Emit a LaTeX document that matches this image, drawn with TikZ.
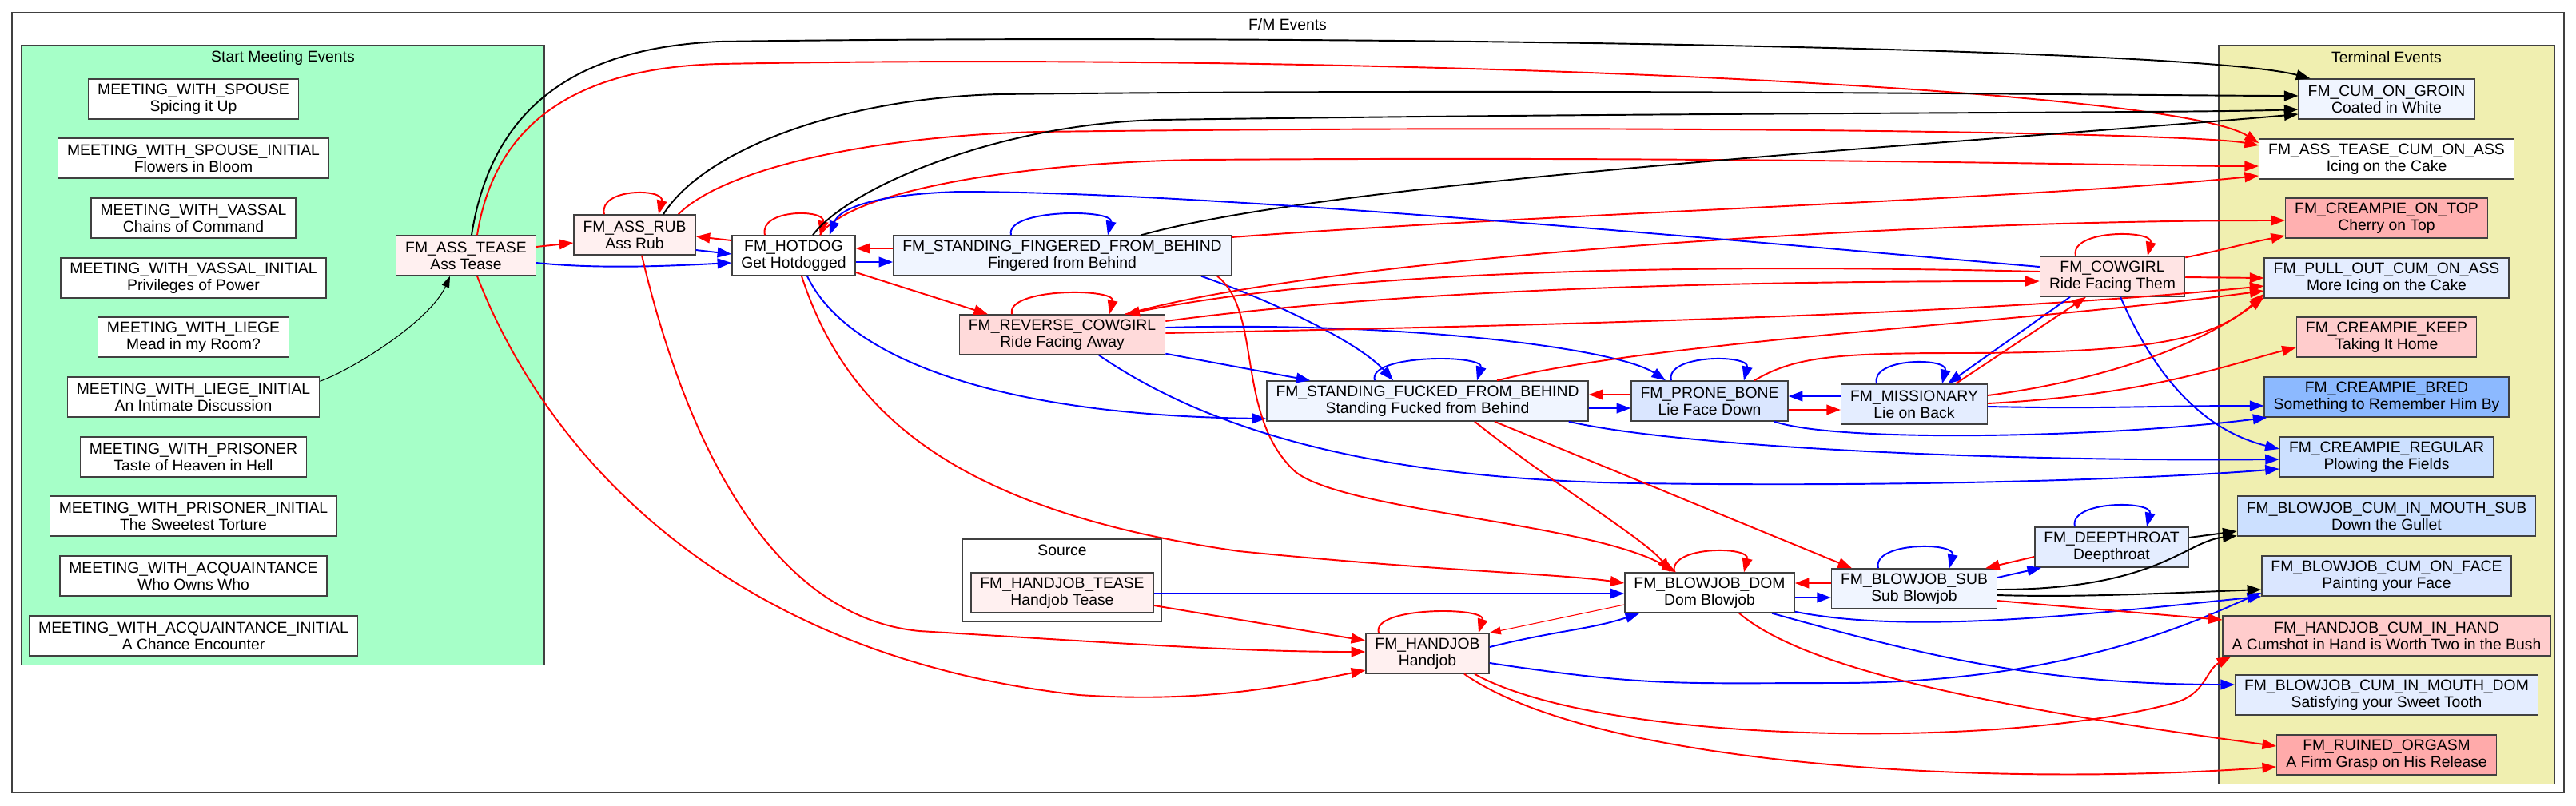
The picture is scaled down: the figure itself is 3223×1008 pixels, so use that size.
\documentclass[tikz,border=0pt]{standalone}
\usepackage{fontspec}
\setmainfont{Liberation Sans}
\usetikzlibrary{positioning, arrows.meta, calc}
\definecolor{startgreen}{RGB}{166,255,200}
\definecolor{termyellow}{RGB}{240,239,176}
\definecolor{pinkpale}{RGB}{255,240,240}
\definecolor{pinklight}{RGB}{255,228,228}
\definecolor{pinkmid}{RGB}{255,218,218}
\definecolor{pinkrose}{RGB}{255,204,204}
\definecolor{pinkdeep}{RGB}{255,176,176}
\definecolor{pinkred}{RGB}{255,170,170}
\definecolor{bluepale}{RGB}{240,245,255}
\definecolor{bluelight}{RGB}{228,237,255}
\definecolor{bluemid}{RGB}{218,230,255}
\definecolor{bluesoft}{RGB}{204,224,255}
\definecolor{bluedeep}{RGB}{140,185,255}
\definecolor{framegray}{RGB}{64,64,64}
\newcommand{\evfont}{\fontsize{5.5}{6}\selectfont}
\tikzset{
  evt/.style={draw=framegray, line width=0.4pt, fill=white, minimum height=0.5cm,
              inner xsep=0.115cm, inner ysep=0.4pt, align=center, font=\evfont},
  grp/.style={draw=framegray, line width=0.4pt, inner sep=0pt},
  grplabel/.style={font=\evfont, inner sep=0pt},
  wire/.style={-{Triangle[length=5pt,width=3.6pt]}, line width=0.55pt},
  redwire/.style={wire, red},
  bluewire/.style={wire, blue},
  blackwire/.style={wire, black},
  thinwire/.style={-{Triangle[length=4pt,width=2.8pt]}, line width=0.3pt}
}

\begin{document}
\begin{tikzpicture}[x=0.01cm, y=-0.01cm]
  \useasboundingbox (0,0) rectangle (3223,1008);
  \node[grp, fill=white, minimum width=31.91cm, minimum height=9.76cm] (fmgrp) at (1611.5,504) {};
  \node[grplabel] (fmtitle) at (1611,31) {F/M Events};
  \node[grp, fill=startgreen, minimum width=6.54cm, minimum height=7.75cm] (startgrp) at (354,444.5) {};
  \node[grplabel] (starttitle) at (354,72) {Start Meeting Events};
  \node[grp, fill=termyellow, minimum width=4.2cm, minimum height=9.24cm] (termgrp) at (2986,519) {};
  \node[grplabel] (termtitle) at (2986,72) {Terminal Events};
  \node[grp, fill=white, minimum width=2.49cm, minimum height=1.03cm] (srcgrp) at (1328.5,726.5) {};
  \node[grplabel] (srctitle) at (1329,689) {Source};

  \node[evt] (spouse)   at (242,124) {MEETING\_WITH\_SPOUSE\\Spicing it Up};
  \node[evt] (spouseI)  at (242,198) {MEETING\_WITH\_SPOUSE\_INITIAL\\Flowers in Bloom};
  \node[evt] (vassal)   at (242,273) {MEETING\_WITH\_VASSAL\\Chains of Command};
  \node[evt] (vassalI)  at (242,348) {MEETING\_WITH\_VASSAL\_INITIAL\\Privileges of Power};
  \node[evt] (liege)    at (242,422) {MEETING\_WITH\_LIEGE\\Mead in my Room?};
  \node[evt] (liegeI)   at (242,497) {MEETING\_WITH\_LIEGE\_INITIAL\\An Intimate Discussion};
  \node[evt] (prisoner) at (242,572) {MEETING\_WITH\_PRISONER\\Taste of Heaven in Hell};
  \node[evt] (prisonerI) at (242,646) {MEETING\_WITH\_PRISONER\_INITIAL\\The Sweetest Torture};
  \node[evt] (acq)      at (242,721) {MEETING\_WITH\_ACQUAINTANCE\\Who Owns Who};
  \node[evt] (acqI)     at (242,796) {MEETING\_WITH\_ACQUAINTANCE\_INITIAL\\A Chance Encounter};

  \node[evt, fill=pinkpale]  (asstease)   at (583,320)  {FM\_ASS\_TEASE\\Ass Tease};
  \node[evt, fill=pinkpale]  (assrub)     at (794,294)  {FM\_ASS\_RUB\\Ass Rub};
  \node[evt]                 (hotdog)     at (993,320)  {FM\_HOTDOG\\Get Hotdogged};
  \node[evt, fill=bluepale]  (fingered)   at (1329,320) {FM\_STANDING\_FINGERED\_FROM\_BEHIND\\Fingered from Behind};
  \node[evt, fill=pinkmid]   (revcowgirl) at (1329,419) {FM\_REVERSE\_COWGIRL\\Ride Facing Away};
  \node[evt, fill=bluepale]  (fucked)     at (1786,502) {FM\_STANDING\_FUCKED\_FROM\_BEHIND\\Standing Fucked from Behind};
  \node[evt, fill=bluemid]   (pronebone)  at (2139,502) {FM\_PRONE\_BONE\\Lie Face Down};
  \node[evt, fill=bluelight] (missionary) at (2395,506) {FM\_MISSIONARY\\Lie on Back};
  \node[evt, fill=pinklight] (cowgirl)    at (2643,346) {FM\_COWGIRL\\Ride Facing Them};
  \node[evt, fill=pinkpale]  (hjtease)    at (1329,742) {FM\_HANDJOB\_TEASE\\Handjob Tease};
  \node[evt, fill=pinkpale]  (handjob)    at (1786,818) {FM\_HANDJOB\\Handjob};
  \node[evt]                 (bjdom)      at (2139,742) {FM\_BLOWJOB\_DOM\\Dom Blowjob};
  \node[evt, fill=bluepale]  (bjsub)      at (2395,737) {FM\_BLOWJOB\_SUB\\Sub Blowjob};
  \node[evt, fill=bluelight] (deepthroat) at (2642,685) {FM\_DEEPTHROAT\\Deepthroat};

  \node[evt, fill=bluepale]  (groin)    at (2986,124) {FM\_CUM\_ON\_GROIN\\Coated in White};
  \node[evt]                 (asscum)   at (2986,199) {FM\_ASS\_TEASE\_CUM\_ON\_ASS\\Icing on the Cake};
  \node[evt, fill=pinkdeep]  (ontop)    at (2986,273) {FM\_CREAMPIE\_ON\_TOP\\Cherry on Top};
  \node[evt, fill=bluelight] (pullout)  at (2986,348) {FM\_PULL\_OUT\_CUM\_ON\_ASS\\More Icing on the Cake};
  \node[evt, fill=pinkrose]  (keep)     at (2986,422) {FM\_CREAMPIE\_KEEP\\Taking It Home};
  \node[evt, fill=bluedeep]  (bred)     at (2986,497) {FM\_CREAMPIE\_BRED\\Something to Remember Him By};
  \node[evt, fill=bluesoft]  (regular)  at (2986,572) {FM\_CREAMPIE\_REGULAR\\Plowing the Fields};
  \node[evt, fill=bluesoft]  (mouthsub) at (2986,646) {FM\_BLOWJOB\_CUM\_IN\_MOUTH\_SUB\\Down the Gullet};
  \node[evt, fill=bluemid]   (onface)   at (2986,721) {FM\_BLOWJOB\_CUM\_ON\_FACE\\Painting your Face};
  \node[evt, fill=pinkrose]  (inhand)   at (2986,796) {FM\_HANDJOB\_CUM\_IN\_HAND\\A Cumshot in Hand is Worth Two in the Bush};
  \node[evt, fill=bluelight] (mouthdom) at (2986,870) {FM\_BLOWJOB\_CUM\_IN\_MOUTH\_DOM\\Satisfying your Sweet Tooth};
  \node[evt, fill=pinkred]   (ruined)   at (2986,945) {FM\_RUINED\_ORGASM\\A Firm Grasp on His Release};

  \draw[thinwire] ($(liegeI.north east)+(0,6)$) .. controls +(48,-18) and +(-23,53) .. ($(asstease.south)+(-20,0)$);
  \draw[blackwire] ($(asstease.north)+(7,0)$) .. controls +(25,-160) and +(-180,8) .. (900,52) .. controls +(700,-10) and +(-150,-40) .. ($(groin.north west)+(15,0)$);
  \draw[redwire] ($(asstease.north)+(14,0)$) .. controls +(22,-140) and +(-180,5) .. (900,80) .. controls +(800,-15) and +(-110,-70) .. ($(asscum.west)+(0,-20)$);
  \draw[redwire] ($(asstease.east)+(0,-11)$) -- ($(assrub.west)+(0,10)$);
  \draw[bluewire] ($(asstease.east)+(0,9)$) .. controls +(80,8) and +(-80,4) .. ($(hotdog.west)+(0,9)$);
  \draw[redwire] ($(asstease.south)+(14,0)$) .. controls +(83,215) and +(-450,-50) .. (1350,870) .. controls +(150,10) and +(-110,22) .. ($(handjob.west)+(0,21)$);

  \draw[redwire] ($(assrub.north)+(-38,0)$) .. controls +(-8,-33) and +(8,-33) .. ($(assrub.north)+(30,0)$);
  \draw[blackwire] ($(assrub.north)+(36,0)$) .. controls +(50,-80) and +(-200,5) .. (1250,118) .. controls +(700,-8) and +(-150,0) .. ($(groin.west)+(0,-4)$);
  \draw[redwire] ($(assrub.north east)+(-22,0)$) .. controls +(60,-60) and +(-200,5) .. (1300,165) .. controls +(800,-10) and +(-80,-15) .. ($(asscum.west)+(0,-17)$);
  \draw[bluewire] ($(assrub.east)+(0,19)$) -- ($(hotdog.west)+(0,-2)$);
  \draw[redwire] ($(assrub.south)+(9,0)$) .. controls +(47,200) and +(-200,-20) .. (1150,790) .. controls +(250,15) and +(-160,0) .. ($(handjob.west)+(0,-2)$);

  \draw[redwire] ($(hotdog.north)+(-36,0)$) .. controls +(-8,-33) and +(8,-33) .. ($(hotdog.north)+(33,0)$);
  \draw[blackwire] ($(hotdog.north)+(24,0)$) .. controls +(45,-60) and +(-200,5) .. (1450,150) .. controls +(700,-10) and +(-150,5) .. ($(groin.west)+(0,13)$);
  \draw[redwire] ($(hotdog.north)+(33,0)$) .. controls +(40,-60) and +(-200,3) .. (1500,200) .. controls +(700,-5) and +(-150,0) .. ($(asscum.west)+(0,9)$);
  \draw[redwire] ($(hotdog.west)+(0,-19)$) -- ($(assrub.east)+(0,2)$);
  \draw[bluewire] ($(hotdog.east)+(0,8)$) -- ($(fingered.west)+(0,8)$);
  \draw[redwire] ($(hotdog.east)+(0,21)$) -- ($(revcowgirl.north)+(-93,0)$);
  \draw[bluewire] ($(hotdog.south)+(17,0)$) .. controls +(50,105) and +(-330,-4) .. ($(fucked.west)+(0,22)$);
  \draw[redwire] ($(hotdog.south)+(10,0)$) .. controls +(57,175) and +(-350,-50) .. (1550,690) .. controls +(250,25) and +(-83,-12) .. ($(bjdom.west)+(0,-12)$);

  \draw[bluewire] ($(fingered.north)+(-64,0)$) .. controls +(-8,-33) and +(8,-33) .. ($(fingered.north)+(57,0)$);
  \draw[redwire] ($(fingered.west)+(0,-9)$) -- ($(hotdog.east)+(0,-9)$);
  \draw[blackwire] ($(fingered.north)+(99,0)$) .. controls +(250,-70) and +(-400,35) .. ($(groin.west)+(0,19)$);
  \draw[redwire] ($(fingered.east)+(0,-23)$) .. controls +(400,-30) and +(-300,30) .. ($(asscum.west)+(0,21)$);
  \draw[bluewire] ($(fingered.south)+(174,0)$) .. controls +(100,35) and +(-40,-45) .. ($(fucked.north)+(-43,0)$);
  \draw[redwire] ($(fingered.south)+(194,0)$) .. controls +(57,45) and +(-75,-70) .. (1620,590) .. controls +(60,50) and +(-107,-62) .. ($(bjdom.north)+(-42,0)$);

  \draw[redwire] ($(revcowgirl.north)+(-63,0)$) .. controls +(-8,-33) and +(8,-33) .. ($(revcowgirl.north)+(59,0)$);
  \draw[bluewire] ($(revcowgirl.south east)+(0,-2)$) -- ($(fucked.north west)+(55,0)$);
  \draw[bluewire] ($(revcowgirl.east)+(0,-9)$) .. controls +(300,-8) and +(-60,-40) .. ($(pronebone.north)+(-55,0)$);
  \draw[redwire] ($(revcowgirl.east)+(0,-17)$) .. controls +(300,-40) and +(-400,0) .. ($(cowgirl.west)+(0,6)$);
  \draw[redwire] ($(revcowgirl.north east)+(-50,0)$) .. controls +(250,-70) and +(-500,0) .. ($(ontop.west)+(0,3)$);
  \draw[redwire] ($(revcowgirl.east)+(0,-2)$) .. controls +(500,-10) and +(-350,35) .. ($(pullout.west)+(0,10)$);
  \draw[bluewire] ($(revcowgirl.south)+(46,0)$) .. controls +(125,86) and +(-350,-5) .. (2050,605) .. controls +(350,5) and +(-150,12) .. ($(regular.west)+(0,15)$);

  \draw[redwire] ($(cowgirl.north)+(-46,0)$) .. controls +(-8,-33) and +(8,-33) .. ($(cowgirl.north)+(44,0)$);
  \draw[bluewire] ($(cowgirl.west)+(0,-12)$) .. controls +(-450,-39) and +(300,0) .. (1200,240) .. controls +(-100,3) and +(13,-35) .. ($(hotdog.north east)+(-33,0)$);
  \draw[redwire] ($(cowgirl.west)+(0,-6)$) .. controls +(-500,-12) and +(250,-50) .. ($(revcowgirl.north east)+(-50,0)$);
  \draw[redwire] ($(cowgirl.north east)+(0,2)$) .. controls +(50,-10) and +(-60,12) .. ($(ontop.west)+(0,22)$);
  \draw[redwire] ($(cowgirl.east)+(0,1)$) -- (pullout.west);
  \draw[bluewire] ($(cowgirl.south)+(-53,0)$) -- ($(missionary.north)+(42,0)$);
  \draw[bluewire] ($(cowgirl.south)+(10,0)$) .. controls +(47,108) and +(-90,-22) .. ($(regular.west)+(0,-10)$);

  \draw[bluewire] ($(fucked.north)+(-66,0)$) .. controls +(-10,-33) and +(10,-33) .. ($(fucked.north)+(62,0)$);
  \draw[bluewire] ($(fucked.east)+(0,9)$) -- ($(pronebone.west)+(0,9)$);
  \draw[redwire] ($(fucked.south)+(59,0)$) .. controls +(100,80) and +(-30,-40) .. ($(bjdom.north)+(-49,0)$);
  \draw[redwire] ($(fucked.south)+(84,0)$) -- ($(bjsub.north)+(-78,0)$);
  \draw[redwire] ($(fucked.north)+(87,0)$) .. controls +(200,-50) and +(-300,40) .. ($(pullout.west)+(0,16)$);
  \draw[bluewire] ($(fucked.south east)+(-25,0)$) .. controls +(140,32) and +(-350,3) .. ($(regular.west)+(0,3)$);

  \draw[bluewire] ($(pronebone.north)+(-48,0)$) .. controls +(-8,-33) and +(8,-33) .. ($(pronebone.north)+(43,0)$);
  \draw[redwire] ($(pronebone.west)+(0,-8)$) -- ($(fucked.east)+(0,-8)$);
  \draw[redwire] ($(pronebone.east)+(0,11)$) -- ($(missionary.west)+(0,7)$);
  \draw[redwire] ($(pronebone.north)+(56,0)$) .. controls +(50,-30) and +(-150,0) .. (2450,442) .. controls +(250,0) and +(-60,55) .. ($(pullout.west)+(0,20)$);
  \draw[bluewire] ($(pronebone.south)+(81,0)$) .. controls +(80,27) and +(-200,25) .. ($(bred.south west)+(4,0)$);

  \draw[bluewire] ($(missionary.north)+(-47,0)$) .. controls +(-8,-33) and +(8,-33) .. ($(missionary.north)+(35,0)$);
  \draw[bluewire] ($(missionary.west)+(0,-10)$) -- ($(pronebone.east)+(0,-6)$);
  \draw[redwire] ($(missionary.north)+(52,0)$) -- ($(cowgirl.south)+(-33,0)$);
  \draw[redwire] ($(missionary.east)+(0,-11)$) .. controls +(150,-20) and +(-80,60) .. ($(pullout.west)+(0,24)$);
  \draw[redwire] ($(missionary.east)+(0,-1)$) .. controls +(200,-10) and +(-80,20) .. ($(keep.west)+(0,13)$);
  \draw[bluewire] ($(missionary.east)+(0,3)$) .. controls +(150,3) and +(-150,0) .. ($(bred.west)+(0,11)$);

  \draw[bluewire] ($(hjtease.east)+(0,1)$) -- ($(bjdom.west)+(0,1)$);
  \draw[redwire] ($(hjtease.east)+(0,16)$) -- ($(handjob.west)+(0,-16)$);
  \draw[redwire] ($(handjob.north)+(-61,0)$) .. controls +(-10,-33) and +(10,-33) .. ($(handjob.north)+(64,0)$);
  \draw[bluewire] ($(handjob.east)+(0,-8)$) .. controls +(80,-20) and +(-60,20) .. ($(bjdom.south west)+(19,0)$);
  \draw[bluewire] ($(handjob.east)+(0,12)$) .. controls +(200,30) and +(-200,0) .. (2300,855) .. controls +(300,0) and +(-60,25) .. ($(onface.west)+(0,21)$);
  \draw[redwire] ($(handjob.south)+(59,0)$) .. controls +(155,87) and +(-220,60) .. (2720,880) .. controls +(40,-11) and +(-32,17) .. ($(inhand.south west)+(11,0)$);
  \draw[redwire] ($(handjob.south)+(46,0)$) .. controls +(168,117) and +(-350,25) .. ($(ruined.west)+(0,15)$);

  \draw[thinwire, red] ($(bjdom.west)+(0,15)$) -- (handjob.north east);
  \draw[redwire] ($(bjdom.north)+(-44,0)$) .. controls +(-8,-33) and +(8,-33) .. ($(bjdom.north)+(43,0)$);
  \draw[bluewire] ($(bjdom.east)+(0,6)$) -- ($(bjsub.west)+(0,11)$);
  \draw[bluewire] ($(bjdom.south east)+(0,-2)$) .. controls +(150,30) and +(-200,20) .. (onface.south west);
  \draw[bluewire] ($(bjdom.south)+(78,0)$) .. controls +(180,50) and +(-250,0) .. ($(mouthdom.west)+(0,-13)$);
  \draw[redwire] ($(bjdom.south)+(37,0)$) .. controls +(74,63) and +(-400,-54) .. ($(ruined.west)+(0,-11)$);

  \draw[bluewire] ($(bjsub.north)+(-45,0)$) .. controls +(-8,-33) and +(8,-33) .. ($(bjsub.north)+(44,0)$);
  \draw[redwire] ($(bjsub.west)+(0,-7)$) -- ($(bjdom.east)+(0,-12)$);
  \draw[bluewire] ($(bjsub.east)+(0,-14)$) -- ($(deepthroat.south west)+(9,0)$);
  \draw[blackwire] ($(bjsub.east)+(0,1)$) .. controls +(200,0) and +(-65,7) .. ($(mouthsub.south west)+(0,-1)$);
  \draw[blackwire] ($(bjsub.east)+(0,8)$) .. controls +(100,3) and +(-130,5) .. ($(onface.west)+(0,17)$);
  \draw[redwire] ($(bjsub.east)+(0,15)$) -- ($(inhand.west)+(0,-20)$);

  \draw[bluewire] ($(deepthroat.north)+(-46,0)$) .. controls +(-8,-33) and +(8,-33) .. ($(deepthroat.north)+(44,0)$);
  \draw[redwire] ($(deepthroat.west)+(0,12)$) -- ($(bjsub.north east)+(-15,0)$);
  \draw[blackwire] ($(deepthroat.east)+(0,-12)$) -- ($(mouthsub.west)+(0,19)$);
\end{tikzpicture}
\end{document}
